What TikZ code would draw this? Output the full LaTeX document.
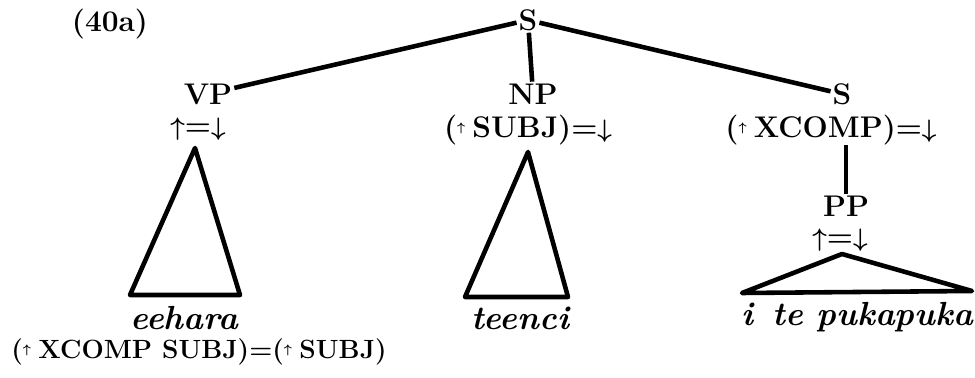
\documentclass[tikz,border=0pt]{standalone}
\usetikzlibrary{positioning}
\newcommand{\upar}{{\fontsize{14}{16}\selectfont\boldmath$\uparrow$}}
\newcommand{\dnar}{{\fontsize{14}{16}\selectfont\boldmath$\downarrow$}}
\newcommand{\upsm}{\raisebox{.45ex}{\scriptsize\boldmath$\uparrow$}\kern-.05em}
\tikzset{
    cat/.style={font=\fontsize{17}{20}\selectfont\bfseries, inner sep=1pt},
    ann/.style={font=\fontsize{17}{20}\selectfont\bfseries, inner sep=0pt},
    word/.style={font=\fontsize{19}{22}\selectfont\bfseries\itshape, inner sep=1pt},
    branch/.style={line width=2.6pt},
    tri/.style={line width=2.6pt, line join=round}
}
\begin{document}
\begin{tikzpicture}
    \useasboundingbox (0,0) rectangle (19.5,7.56);
    \node (ex) [cat] at (2.2,7.08) {(40a)};
    \node (s0) [cat] at (10.56,7.16) {S};
    \node (vp) [cat] at (4.16,5.68) {VP};
    \node (vpann) [ann] at (3.96,4.98) {\upar=\dnar};
    \node (np) [cat] at (10.66,5.68) {NP};
    \node (npann) [ann] at (10.56,4.96) {(\upsm SUBJ)=\dnar};
    \node (s1) [cat] at (16.84,5.68) {S};
    \node (s1ann) [ann] at (16.62,4.96) {(\upsm XCOMP)=\dnar};
    \node (pp) [cat] at (16.92,3.44) {PP};
    \node (ppann) [ann] at (16.8,2.76) {\upar=\dnar};

    % triangles
    \coordinate (vptop) at (3.9,4.6);
    \coordinate (vpl) at (2.6,1.66);
    \coordinate (vpr) at (4.8,1.66);
    \coordinate (nptop) at (10.56,4.52);
    \coordinate (npl) at (9.3,1.62);
    \coordinate (npr) at (11.36,1.62);
    \coordinate (pptop) at (16.84,2.48);
    \coordinate (ppl) at (14.84,1.7);
    \coordinate (ppr) at (19.44,1.74);

    \node (eehara) [word] at (3.68,1.2) {eehara};
    \node (eq) [ann, font=\fontsize{15}{18}\selectfont\bfseries] at (3.98,0.52) {(\upsm XCOMP SUBJ)=(\upsm SUBJ)};
    \node (teenci) [word] at (10.4,1.2) {teenci};
    \node (pukapuka) [word] at (17.14,1.22) {i\, te pukapuka};

    \draw [branch] (s0) -- (vp);
    \draw [branch] (s0) -- (np);
    \draw [branch] (s0) -- (s1);
    \draw [branch] (s1ann.south -| pp) -- (pp);
    \draw [tri] (vptop) -- (vpl) -- (vpr) -- cycle;
    \draw [tri] (nptop) -- (npl) -- (npr) -- cycle;
    \draw [tri] (pptop) -- (ppl) -- (ppr) -- cycle;
\end{tikzpicture}
\end{document}
